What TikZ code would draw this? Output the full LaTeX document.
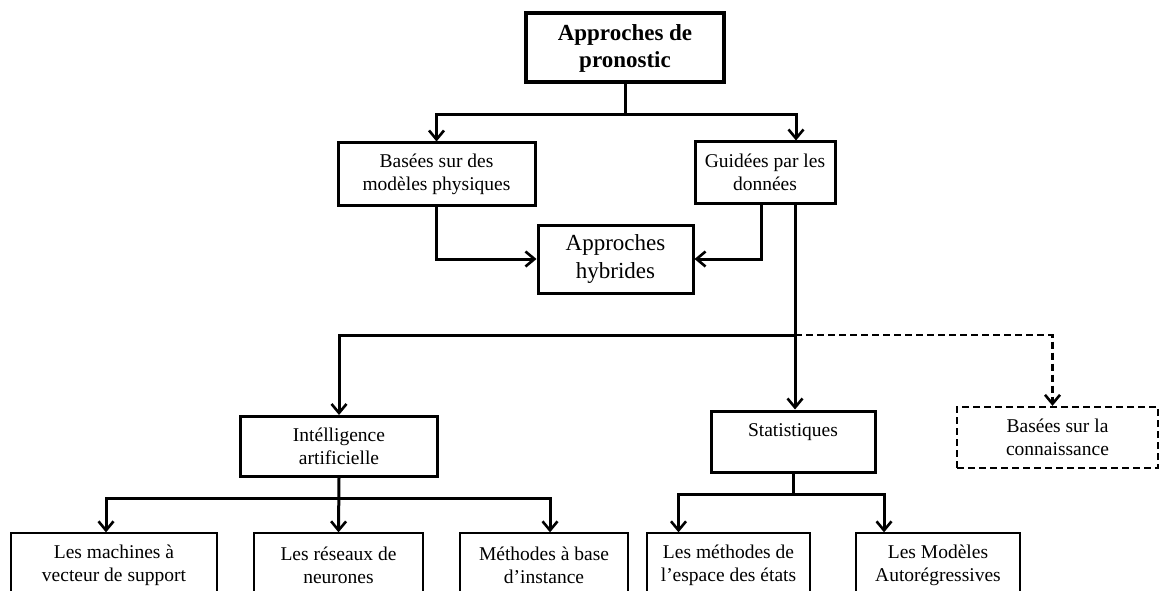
\documentclass[tikz,border=0pt]{standalone}
\usepackage{fontspec}
\setmainfont{Liberation Serif}
\usetikzlibrary{positioning,arrows.meta}

\tikzset{
  box/.style={draw, line width=3pt, inner sep=0pt, align=center,
    font=\fontsize{19.5}{23}\selectfont},
  leaf/.style={box, line width=1.3pt},
  link/.style={line width=3pt, -{Straight Barb[length=9pt,width=15pt,line width=2.6pt]}}
}

\begin{document}
\begin{tikzpicture}[x=1pt,y=-1pt]
    \useasboundingbox (0,0) rectangle (1159,591);

    \node[box, line width=4pt, minimum width=198pt, minimum height=69pt,
      font=\bfseries\fontsize{23}{27}\selectfont] (title) at (625,48) {Approches de\\pronostic};

    \node[box, minimum width=197pt, minimum height=62pt] (phys) at (436.5,174) {Basées sur des\\modèles physiques};
    \node[box, minimum width=140pt, minimum height=61pt] (data) at (765,172.5) {Guidées par les\\données};
    \node[box, minimum width=155pt, minimum height=68pt,
      font=\fontsize{23}{28}\selectfont] (hyb) at (615.5,259) {Approches\\hybrides};

    \node[box, minimum width=197pt, minimum height=60pt] (ia) at (339,446.5) {Intélligence\\artificielle};
    \node[box, minimum width=164pt, minimum height=61pt] (stat) at (793,441.5) {Statistiques\\~};
    \node[box, line width=2.3pt, dash pattern=on 7pt off 4pt, minimum width=201pt, minimum height=61pt] (know) at (1057.5,437.5) {Basées sur la\\connaissance};

    \node[leaf, minimum width=206pt, minimum height=64pt] (svm) at (114,565) {Les machines à\\vecteur de support};
    \node[leaf, minimum width=169pt, minimum height=64pt] (ann) at (338.5,565) {Les réseaux de\\neurones};
    \node[leaf, minimum width=168pt, minimum height=64pt] (ibm) at (544,565) {Méthodes à base\\d’instance};
    \node[leaf, minimum width=163pt, minimum height=64pt] (ssm) at (728.5,565) {Les méthodes de\\l’espace des états};
    \node[leaf, minimum width=164pt, minimum height=64pt] (ar) at (938,565) {Les Modèles\\Autorégressives};

    \coordinate (f1) at (625,115);
    \draw[line width=3pt] (title.south) -- (f1);
    \draw[link] (f1) -| (phys.north);
    \draw[link] (f1) -| ([xshift=31pt]data.north);

    \draw[link] (phys.south) |- (hyb.west);
    \draw[link] ([xshift=-4pt]data.south) |- (hyb.east);

    \coordinate (d1) at ([xshift=30pt]data.south);
    \coordinate (f2) at (d1 |- 0,335);
    \draw[link] (d1) -- (d1 |- stat.north);
    \draw[link] (f2) -| (ia.north);
    \draw[link, line width=2.3pt, dash pattern=on 7pt off 4pt] (f2) -| ([xshift=-5pt]know.north);

    \coordinate (f3) at (ia.south |- 0,498);
    \draw[link] (ia.south) -- (ann.north);
    \draw[link] (f3) -| ([xshift=-8pt]svm.north);
    \draw[link] (f3) -| ([xshift=6pt]ibm.north);

    \coordinate (f4) at (stat.south |- 0,494);
    \draw[line width=3pt] (stat.south) -- (f4);
    \draw[link] (f4) -| ([xshift=-50pt]ssm.north);
    \draw[link] (f4) -| ([xshift=-54pt]ar.north);
  \end{tikzpicture}
\end{document}
